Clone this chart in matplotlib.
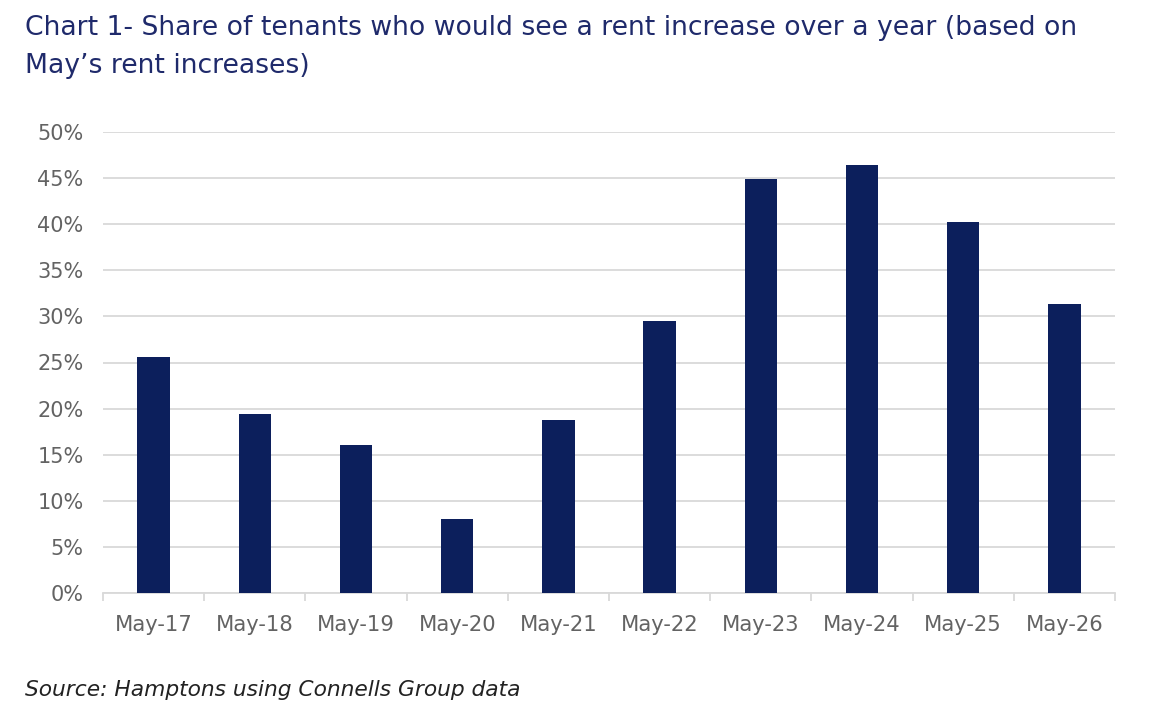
import matplotlib
matplotlib.use("Agg")
import matplotlib.pyplot as plt
from matplotlib.ticker import FixedLocator, PercentFormatter
import numpy as np

categories = ["May-17", "May-18", "May-19", "May-20", "May-21",
              "May-22", "May-23", "May-24", "May-25", "May-26"]
share = [25.6, 19.4, 16.1, 8.0, 18.8, 29.5, 44.9, 46.4, 40.2, 31.3]
yticks = [0, 5, 10, 15, 20, 25, 30, 35, 40, 45, 50]

title = "Chart 1- Share of tenants who would see a rent increase over a year (based on\nMay\u2019s rent increases)"
source = "Source: Hamptons using Connells Group data"

plt.rcParams['font.family'] = ['DejaVu Sans']

fig = plt.figure(figsize=(11.62, 7.18), dpi=100)
ax = fig.add_axes([103/1162, 1-593/718, (1115-103)/1162, (593-132)/718])

x = np.arange(len(categories))
ax.bar(x, share, width=0.32, color="#0c1f5c", zorder=3)

ax.set_xlim(-0.5, len(categories)-0.5)
ax.set_ylim(0, 50)
ax.set_yticks(yticks)
ax.yaxis.set_major_formatter(PercentFormatter(decimals=0))
ax.grid(axis='y', color="#d9d9d9", linewidth=1.3, zorder=0)
ax.set_axisbelow(True)

ax.set_xticks(x)
ax.set_xticklabels(categories)
ax.xaxis.set_minor_locator(FixedLocator(np.arange(-0.5, len(categories), 1.0)))
ax.tick_params(axis='x', which='major', length=0, pad=16, labelsize=15.2, labelcolor="#636363")
ax.tick_params(axis='x', which='minor', length=6, color="#d9d9d9", width=1.3)
ax.tick_params(axis='y', length=0, pad=14, labelsize=15, labelcolor="#636363")

for s in ['top', 'right', 'left']:
    ax.spines[s].set_visible(False)
ax.spines['bottom'].set_color("#d9d9d9")
ax.spines['bottom'].set_linewidth(1.3)

fig.text(25/1162, 1-15/718, title, ha='left', va='top', fontsize=19.2,
         color="#1f2a6b", linespacing=1.62)
fig.text(25/1162, 1-690/718, source, ha='left', va='center', fontsize=15.7,
         style='italic', color="#222222")

fig.savefig("out.png", dpi=100)
